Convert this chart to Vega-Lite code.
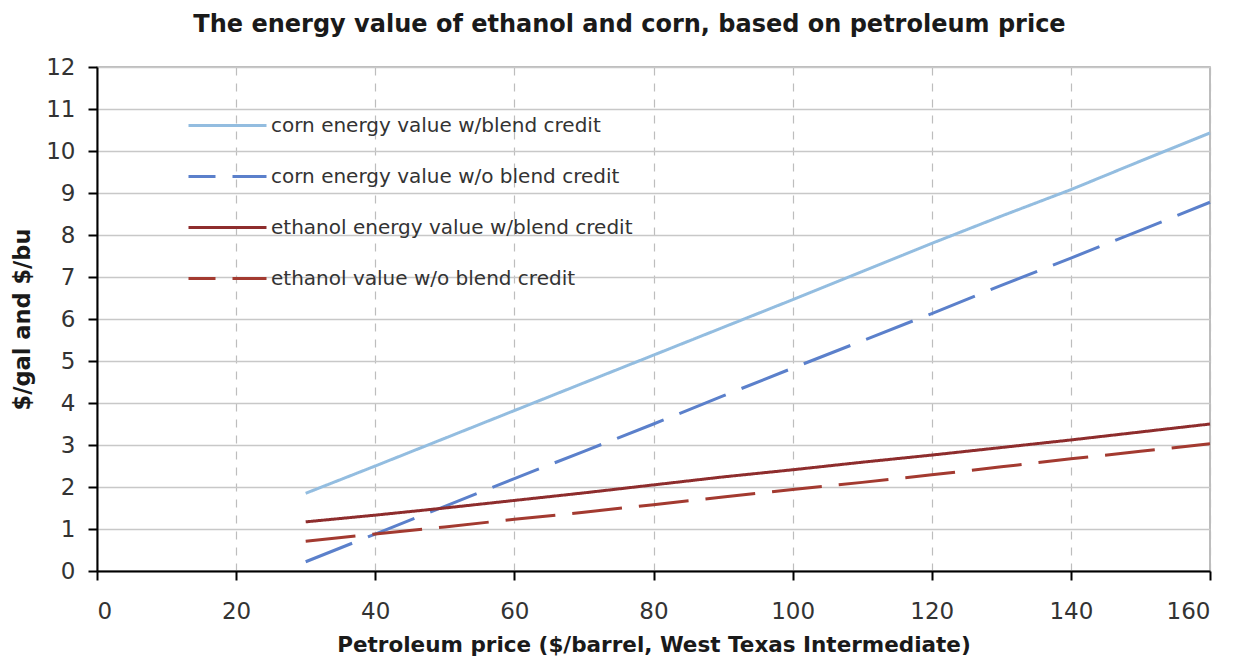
{
  "$schema": "https://vega.github.io/schema/vega-lite/v6.json",
  "autosize": {"type": "none"},
  "width": 1113,
  "height": 504,
  "padding": {"left": 97, "top": 67, "right": 28, "bottom": 86},
  "background": "white",
  "title": {
    "text": "The energy value of ethanol and corn, based on petroleum price",
    "font": "DejaVu Sans",
    "fontSize": 24,
    "fontWeight": "bold",
    "color": "#1a1a1a",
    "anchor": "middle",
    "dx": -24,
    "offset": 19
  },
  "config": {
    "view": {"stroke": "#a8a8a8", "strokeWidth": 1.5},
    "font": "DejaVu Sans"
  },
  "data": {
    "values": [
      {"price": 30, "value": 1.85, "series": "corn energy value w/blend credit"},
      {"price": 40, "value": 2.5, "series": "corn energy value w/blend credit"},
      {"price": 50, "value": 3.16, "series": "corn energy value w/blend credit"},
      {"price": 60, "value": 3.82, "series": "corn energy value w/blend credit"},
      {"price": 70, "value": 4.48, "series": "corn energy value w/blend credit"},
      {"price": 80, "value": 5.14, "series": "corn energy value w/blend credit"},
      {"price": 90, "value": 5.8, "series": "corn energy value w/blend credit"},
      {"price": 100, "value": 6.46, "series": "corn energy value w/blend credit"},
      {"price": 110, "value": 7.13, "series": "corn energy value w/blend credit"},
      {"price": 120, "value": 7.8, "series": "corn energy value w/blend credit"},
      {"price": 130, "value": 8.45, "series": "corn energy value w/blend credit"},
      {"price": 140, "value": 9.08, "series": "corn energy value w/blend credit"},
      {"price": 150, "value": 9.76, "series": "corn energy value w/blend credit"},
      {"price": 160, "value": 10.43, "series": "corn energy value w/blend credit"},
      {"price": 30, "value": 0.22, "series": "corn energy value w/o blend credit"},
      {"price": 40, "value": 0.88, "series": "corn energy value w/o blend credit"},
      {"price": 50, "value": 1.54, "series": "corn energy value w/o blend credit"},
      {"price": 60, "value": 2.2, "series": "corn energy value w/o blend credit"},
      {"price": 70, "value": 2.85, "series": "corn energy value w/o blend credit"},
      {"price": 80, "value": 3.5, "series": "corn energy value w/o blend credit"},
      {"price": 90, "value": 4.17, "series": "corn energy value w/o blend credit"},
      {"price": 100, "value": 4.83, "series": "corn energy value w/o blend credit"},
      {"price": 110, "value": 5.48, "series": "corn energy value w/o blend credit"},
      {"price": 120, "value": 6.13, "series": "corn energy value w/o blend credit"},
      {"price": 130, "value": 6.8, "series": "corn energy value w/o blend credit"},
      {"price": 140, "value": 7.45, "series": "corn energy value w/o blend credit"},
      {"price": 150, "value": 8.11, "series": "corn energy value w/o blend credit"},
      {"price": 160, "value": 8.78, "series": "corn energy value w/o blend credit"},
      {"price": 30, "value": 1.17, "series": "ethanol energy value w/blend credit"},
      {"price": 40, "value": 1.33, "series": "ethanol energy value w/blend credit"},
      {"price": 50, "value": 1.5, "series": "ethanol energy value w/blend credit"},
      {"price": 60, "value": 1.68, "series": "ethanol energy value w/blend credit"},
      {"price": 70, "value": 1.86, "series": "ethanol energy value w/blend credit"},
      {"price": 80, "value": 2.05, "series": "ethanol energy value w/blend credit"},
      {"price": 90, "value": 2.24, "series": "ethanol energy value w/blend credit"},
      {"price": 100, "value": 2.41, "series": "ethanol energy value w/blend credit"},
      {"price": 110, "value": 2.59, "series": "ethanol energy value w/blend credit"},
      {"price": 120, "value": 2.76, "series": "ethanol energy value w/blend credit"},
      {"price": 130, "value": 2.94, "series": "ethanol energy value w/blend credit"},
      {"price": 140, "value": 3.12, "series": "ethanol energy value w/blend credit"},
      {"price": 150, "value": 3.31, "series": "ethanol energy value w/blend credit"},
      {"price": 160, "value": 3.5, "series": "ethanol energy value w/blend credit"},
      {"price": 30, "value": 0.71, "series": "ethanol value w/o blend credit"},
      {"price": 40, "value": 0.88, "series": "ethanol value w/o blend credit"},
      {"price": 50, "value": 1.05, "series": "ethanol value w/o blend credit"},
      {"price": 60, "value": 1.23, "series": "ethanol value w/o blend credit"},
      {"price": 70, "value": 1.4, "series": "ethanol value w/o blend credit"},
      {"price": 80, "value": 1.58, "series": "ethanol value w/o blend credit"},
      {"price": 90, "value": 1.76, "series": "ethanol value w/o blend credit"},
      {"price": 100, "value": 1.94, "series": "ethanol value w/o blend credit"},
      {"price": 110, "value": 2.11, "series": "ethanol value w/o blend credit"},
      {"price": 120, "value": 2.29, "series": "ethanol value w/o blend credit"},
      {"price": 130, "value": 2.48, "series": "ethanol value w/o blend credit"},
      {"price": 140, "value": 2.67, "series": "ethanol value w/o blend credit"},
      {"price": 150, "value": 2.85, "series": "ethanol value w/o blend credit"},
      {"price": 160, "value": 3.03, "series": "ethanol value w/o blend credit"}
    ]
  },
  "mark": {"type": "line", "strokeWidth": 3, "strokeCap": "butt"},
  "encoding": {
    "x": {
      "field": "price",
      "type": "quantitative",
      "scale": {"domain": [0, 160], "nice": false},
      "axis": {
        "title": "Petroleum price ($/barrel, West Texas Intermediate)",
        "titleFont": "DejaVu Sans",
        "titleFontSize": 21.5,
        "titleFontWeight": "bold",
        "titleColor": "#1a1a1a",
        "titlePadding": 11,
        "values": [0, 20, 40, 60, 80, 100, 120, 140, 160],
        "labelFont": "DejaVu Sans",
        "labelFontSize": 23,
        "labelColor": "#333333",
        "labelPadding": 20,
        "domainColor": "#000000",
        "domainWidth": 2,
        "tickColor": "#000000",
        "tickWidth": 2,
        "tickSize": 9,
        "grid": true,
        "gridColor": "#bdbdbd",
        "gridWidth": 1.2,
        "gridDash": [8, 8]
      }
    },
    "y": {
      "field": "value",
      "type": "quantitative",
      "scale": {"domain": [0, 12], "nice": false},
      "axis": {
        "title": "$/gal and $/bu",
        "titleFont": "DejaVu Sans",
        "titleFontSize": 22.5,
        "titleFontWeight": "bold",
        "titleColor": "#1a1a1a",
        "titlePadding": 11,
        "values": [0, 1, 2, 3, 4, 5, 6, 7, 8, 9, 10, 11, 12],
        "labelFont": "DejaVu Sans",
        "labelFontSize": 23,
        "labelColor": "#333333",
        "labelPadding": 13,
        "domainColor": "#000000",
        "domainWidth": 2,
        "tickColor": "#000000",
        "tickWidth": 2,
        "tickSize": 9,
        "grid": true,
        "gridColor": "#c8c8c8",
        "gridWidth": 1.5
      }
    },
    "color": {
      "field": "series",
      "type": "nominal",
      "scale": {
        "domain": ["corn energy value w/blend credit", "corn energy value w/o blend credit", "ethanol energy value w/blend credit", "ethanol value w/o blend credit"],
        "range": ["#93bde0", "#5b80cb", "#8e2d2d", "#a33a30"]
      },
      "legend": {
        "title": null,
        "orient": "none",
        "legendX": 90,
        "legendY": 18,
        "symbolType": "stroke",
        "symbolSize": 6084,
        "symbolStrokeWidth": 3,
        "labelFont": "DejaVu Sans",
        "labelFontSize": 20,
        "labelColor": "#333333",
        "labelOffset": 3,
        "labelLimit": 600,
        "rowPadding": 0,
        "padding": 0,
        "encode": {
          "symbols": {
            "update": {
              "strokeDashOffset": {"value": 23}
            }
          }
        }
      }
    },
    "strokeDash": {
      "field": "series",
      "type": "nominal",
      "scale": {
        "domain": ["corn energy value w/blend credit", "corn energy value w/o blend credit", "ethanol energy value w/blend credit", "ethanol value w/o blend credit"],
        "range": [[1, 0], [50, 17], [1, 0], [50, 17]]
      },
      "legend": null
    }
  }
}
